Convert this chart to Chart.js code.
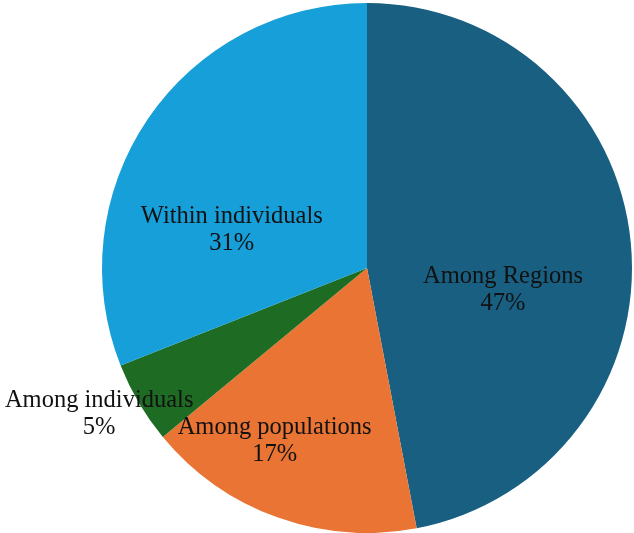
<!DOCTYPE html>
<html>
<head>
<meta charset="utf-8">
<script src="https://cdn.jsdelivr.net/npm/chart.js@4/dist/chart.umd.min.js"></script>
<style>
  html, body { margin: 0; padding: 0; background: #fff; }
  #wrap { width: 634px; height: 533px; }
</style>
</head>
<body>
<div id="wrap"><canvas id="myChart" width="634" height="533"></canvas></div>
<script>
const categories = ['Among Regions', 'Among populations', 'Among individuals', 'Within individuals'];
const shares = [47, 17, 5, 31];
const sliceColors = ['#185f82', '#e97434', '#1e6b23', '#169fd8'];

// label placement: angle shift from slice middle (deg), distance as fraction of radius
const labelShift = [14.5, 8.3, 2.1, -18.5];
const labelDist = [0.52, 0.74, 1.15, 0.53];

const pieLabels = {
    id: 'pieLabels',
    afterDatasetsDraw(chart) {
        const ctx = chart.ctx;
        const meta = chart.getDatasetMeta(0);
        ctx.save();
        ctx.font = '24.5px "Liberation Serif", "Times New Roman", serif';
        ctx.fillStyle = '#111';
        ctx.textAlign = 'center';
        ctx.textBaseline = 'middle';
        meta.data.forEach((arc, i) => {
            const p = arc.getProps(['x', 'y', 'startAngle', 'endAngle', 'outerRadius'], true);
            const mid = (p.startAngle + p.endAngle) / 2 + labelShift[i] * Math.PI / 180;
            const r = p.outerRadius * labelDist[i];
            const x = p.x + Math.cos(mid) * r;
            const y = p.y + Math.sin(mid) * r;
            ctx.fillText(categories[i], x, y - 13);
            ctx.fillText(shares[i] + '%', x, y + 14);
        });
        ctx.restore();
    }
};

const ctx = document.getElementById('myChart').getContext('2d');
const myChart = new Chart(ctx, {
    type: 'pie',
    data: {
        labels: categories,
        datasets: [{
            data: shares,
            backgroundColor: sliceColors,
            borderWidth: 0
        }]
    },
    options: {
        responsive: false,
        animation: false,
        layout: { padding: { left: 102, right: 2, top: 3, bottom: 0 } },
        plugins: {
            legend: { display: false },
            tooltip: { enabled: false }
        }
    },
    plugins: [pieLabels]
});
</script>
</body>
</html>
